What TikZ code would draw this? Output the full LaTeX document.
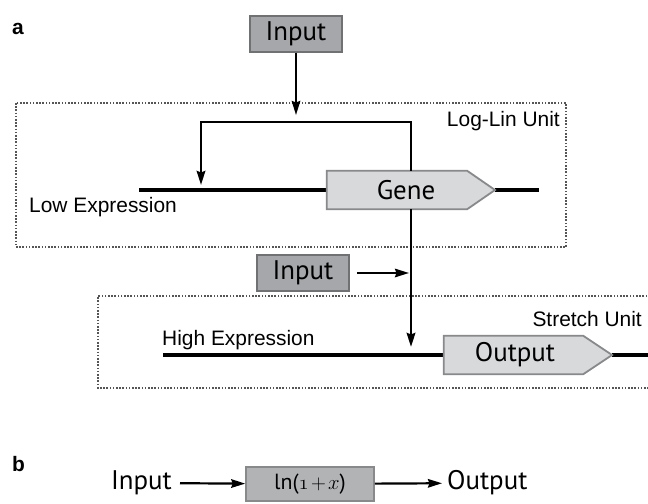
\documentclass[tikz,border=0pt]{standalone}
\usepackage{fontspec}
\setmainfont{Liberation Sans}
\newfontfamily\boxfont{PT Sans}
\usetikzlibrary{arrows.meta}
\definecolor{inputgray}{HTML}{A6A7AA}
\definecolor{inputborder}{HTML}{707173}
\definecolor{genegray}{HTML}{D8D9DB}
\definecolor{geneborder}{HTML}{88898B}
\definecolor{lngray}{HTML}{B2B3B5}
\definecolor{dotgray}{HTML}{555555}
\tikzset{
  inbox/.style={draw=inputborder, fill=inputgray, line width=1.5bp, minimum width=92bp, minimum height=36bp, inner sep=0pt, font=\boxfont\fontsize{27}{30}\selectfont},
  generect/.style={minimum width=140bp, minimum height=38bp, inner sep=0pt},
  geneshape/.style={draw=geneborder, fill=genegray, line width=1.8bp, line join=miter},
  genetext/.style={inner sep=0pt, font=\boxfont\fontsize{27}{30}\selectfont},
  plaintext/.style={inner sep=0pt, font=\fontsize{21}{25}\selectfont},
  bigtext/.style={font=\boxfont\fontsize{27}{30}\selectfont},
  arr/.style={-{Stealth[length=14bp,width=8.5bp,inset=1.5bp]}, line width=2.2bp},
  dna/.style={line width=3.4bp},
  unitbox/.style={draw=dotgray, line width=2.8bp, dash pattern=on 1.6bp off 1.6bp},
  panel/.style={inner sep=0pt, font=\bfseries\fontsize{21}{25}\selectfont}
}
\begin{document}
\begin{tikzpicture}[x=1bp, y=-1bp]
\useasboundingbox (0,0) rectangle (648,504);
% panel labels
\node[panel, anchor=base west] (pa) at (12,35) {a};
\node[panel, anchor=base west] (pb) at (12,471) {b};

% Log-Lin unit box
\draw[unitbox] (16,103) rectangle (566,247);
\node[plaintext, anchor=base east] (loglin) at (560,127) {Log-Lin Unit};

% Stretch unit box (open on right)
\draw[unitbox] (660,296) -- (98,296) -- (98,388) -- (660,388);
\node[plaintext, anchor=base east] (stretch) at (642,326) {Stretch Unit};

% top input
\node[inbox] (input1) at (296,34) {Input};
\coordinate (in1end) at (296,115);
\draw[arr] (input1.south) -- (in1end);

% gene
\node[generect] (gene) at (397,190) {};
\coordinate (genetip) at (495,190);
\coordinate (lowL) at (139,190);
\coordinate (lowR) at (539,190);
\draw[dna] (lowL) -- (gene.west);
\draw[dna] (genetip) -- (lowR);
\draw[geneshape] (gene.north west) -- (gene.north east) -- (genetip) -- (gene.south east) -- (gene.south west) -- cycle;
\node[genetext] (genelabel) at (406,190) {Gene};
\node[plaintext, anchor=base west] (lowexp) at (29,213) {Low Expression};

% feedback
\coordinate (fbR) at (411,122);
\coordinate (fbL) at (201,122);
\coordinate (fbEnd) at (201,185);
\draw[arr, line width=2.5bp, line join=miter] (gene.north -| fbR) -- (fbR) -- (fbL) -- (fbEnd);

% vertical down to stretch unit
\coordinate (vEnd) at (411,347);
\draw[arr, line width=2.8bp] (gene.south -| fbR) -- (vEnd);

% second input
\node[inbox] (input2) at (303,273) {Input};
\coordinate (in2end) at (409,273);
\draw[arr] ([xshift=7bp]input2.east) -- (in2end);

% output
\node[generect, minimum width=139bp] (output) at (513.5,355) {};
\coordinate (outtip) at (612,355);
\coordinate (highL) at (163,355);
\coordinate (highR) at (660,355);
\draw[dna] (highL) -- (output.west);
\draw[dna] (outtip) -- (highR);
\draw[geneshape] (output.north west) -- (output.north east) -- (outtip) -- (output.south east) -- (output.south west) -- cycle;
\node[genetext] (outlabel) at (515,355) {Output};
\node[plaintext, anchor=base west] (highexp) at (162,345) {High Expression};

% panel b
\node[draw=geneborder, fill=lngray, line width=1.5bp, minimum width=128bp, minimum height=34bp, inner sep=0pt, font=\boxfont\fontsize{22}{26}\selectfont] (lnbox) at (310,484) {ln($\mathnormal{1}\mkern2mu{+}\mkern2mu x$)};
\node[bigtext, anchor=east, inner sep=8bp] (inb) at (180,483) {Input};
\node[bigtext, anchor=west, inner sep=5bp] (outb) at (442,483) {Output};
\draw[arr] (inb) -- (lnbox);
\draw[arr] (lnbox) -- (outb);
\end{tikzpicture}
\end{document}
